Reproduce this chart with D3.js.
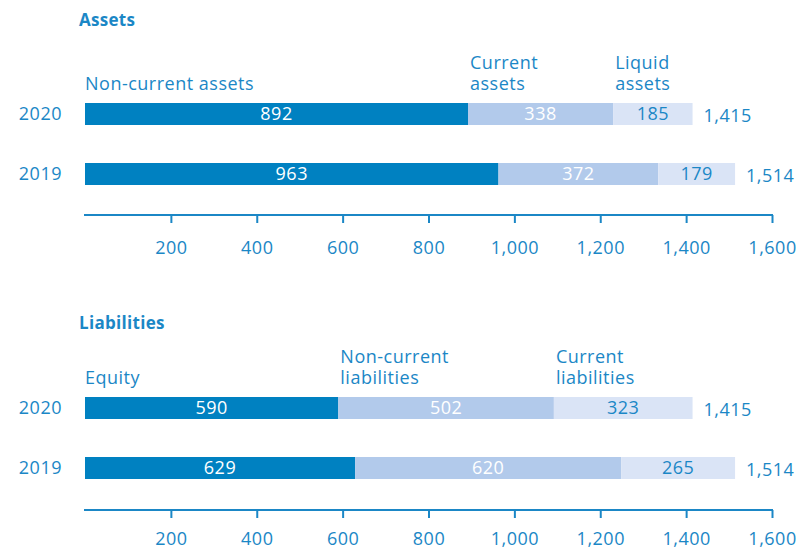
<!DOCTYPE html>
<html>
<head>
<meta charset="utf-8">
<script src="https://cdn.jsdelivr.net/npm/d3@7"></script>
<style>
  body { margin: 0; background: #fff; }
  svg text { font-family: "Open Sans", "Noto Sans", sans-serif; }
</style>
</head>
<body>
<div id="chart"></div>
<script>
// years shown as rows, newest first
const years = ["2020", "2019"];

// Assets
const assetSegments = ["Non-current assets", "Current assets", "Liquid assets"];
const assetLabelLines = [["Non-current assets"], ["Current", "assets"], ["Liquid", "assets"]];
const assets2020 = [892, 338, 185];
const assets2019 = [963, 372, 179];
const assetTotals = [1415, 1514];

// Liabilities
const liabSegments = ["Equity", "Non-current liabilities", "Current liabilities"];
const liabLabelLines = [["Equity"], ["Non-current", "liabilities"], ["Current", "liabilities"]];
const liab2020 = [590, 502, 323];
const liab2019 = [629, 620, 265];
const liabTotals = [1415, 1514];

const tickValues = [200, 400, 600, 800, 1000, 1200, 1400, 1600];

const colors = ["#0081c1", "#b2caeb", "#dae4f6"];
const labelColors = ["#ffffff", "#ffffff", "#1b87c6"];
const textBlue = "#1b87c6";

const width = 801, height = 551;
const fontSize = "18px";
const spacing = "0.5px";

const svg = d3.select("#chart").append("svg")
  .attr("width", width)
  .attr("height", height);

const x = d3.scaleLinear().domain([0, 1600]).range([85, 772]);
const fmt = d3.format(",");

// draws one panel (title, stacked bars, axis)
const drawPanel = (opts) => {
  const g = svg.append("g").attr("transform", `translate(0,${opts.top})`);

  g.append("text")
    .attr("x", 79).attr("y", 26)
    .attr("fill", textBlue)
    .style("font-size", "17px")
    .style("letter-spacing", "0.3px")
    .style("font-weight", "bold")
    .text(opts.title);

  // bands: 22px bars, 60px apart
  const y = d3.scaleBand()
    .domain(years)
    .range([opts.barTop, opts.barTop + 82])
    .paddingInner(38 / 60)
    .paddingOuter(0);

  const rows = [opts.v2020, opts.v2019];

  rows.forEach((vals, i) => {
    const year = years[i];
    const stack = d3.cumsum(vals);
    const starts = [0, ...stack.slice(0, -1)];
    const mid = y(year) + y.bandwidth() / 2;
    const row = g.append("g");

    row.selectAll("rect")
      .data(vals)
      .enter()
      .append("rect")
        .attr("x", (d, j) => x(starts[j]))
        .attr("y", y(year))
        .attr("width", (d, j) => x(stack[j]) - x(starts[j]))
        .attr("height", y.bandwidth())
        .attr("fill", (d, j) => colors[j]);

    row.selectAll("text.val")
      .data(vals)
      .enter()
      .append("text")
        .attr("class", "val")
        .attr("x", (d, j) => (x(starts[j]) + x(stack[j])) / 2)
        .attr("y", mid)
        .attr("dy", "0.36em")
        .attr("text-anchor", "middle")
        .attr("fill", (d, j) => labelColors[j])
        .style("font-size", fontSize)
        .style("letter-spacing", spacing)
        .text(d => d);

    // year label
    row.append("text")
      .attr("x", 62)
      .attr("y", mid)
      .attr("dy", "0.36em")
      .attr("text-anchor", "end")
      .attr("fill", textBlue)
      .style("font-size", fontSize)
      .style("letter-spacing", spacing)
      .text(year);

    // total
    row.append("text")
      .attr("x", x(opts.totals[i]) + 11)
      .attr("y", mid + 2)
      .attr("dy", "0.36em")
      .attr("fill", textBlue)
      .style("font-size", fontSize)
      .style("letter-spacing", spacing)
      .text(fmt(opts.totals[i]));
  });

  // segment names above the 2020 bar, one text per line
  const stack2020 = d3.cumsum(opts.v2020);
  const starts2020 = [0, ...stack2020.slice(0, -1)];
  opts.labelLines.forEach((lines, j) => {
    const lx = x(starts2020[j]) + (j === 0 ? 0 : 2);
    lines.forEach((line, k) => {
      g.append("text")
        .attr("x", lx)
        .attr("y", y(years[0]) - 13 - (lines.length - 1 - k) * 21)
        .attr("fill", textBlue)
        .style("font-size", fontSize)
        .style("letter-spacing", spacing)
        .text(line);
    });
  });

  // axis
  const axis = d3.axisBottom(x)
    .tickValues(tickValues)
    .tickFormat(fmt)
    .tickSize(8)
    .tickPadding(opts.tickPad);

  const ax = g.append("g")
    .attr("transform", `translate(0,${opts.axisY})`)
    .call(axis);

  ax.select(".domain")
    .attr("d", `M${x(0) - 1},0H${x(1600) + 1}`)
    .attr("stroke", textBlue)
    .attr("stroke-width", 2);
  ax.selectAll(".tick line")
    .attr("stroke", textBlue)
    .attr("stroke-width", 2);
  ax.selectAll(".tick text")
    .attr("fill", textBlue)
    .style("font-size", fontSize)
    .style("letter-spacing", spacing);
};

drawPanel({
  title: "Assets", top: 0, barTop: 103, axisY: 215, tickPad: 18,
  v2020: assets2020, v2019: assets2019, totals: assetTotals,
  labelLines: assetLabelLines
});

drawPanel({
  title: "Liabilities", top: 303, barTop: 94, axisY: 207, tickPad: 14,
  v2020: liab2020, v2019: liab2019, totals: liabTotals,
  labelLines: liabLabelLines
});
</script>
</body>
</html>
